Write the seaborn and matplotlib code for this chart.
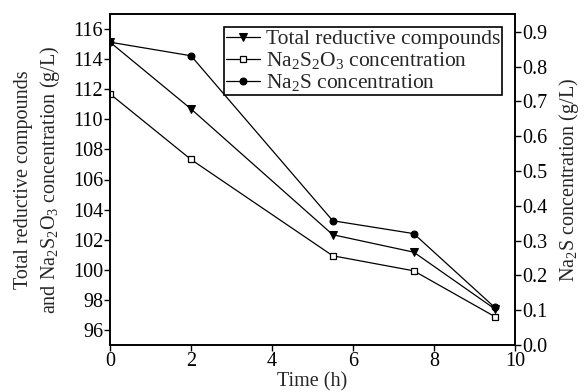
import matplotlib
matplotlib.use("Agg")
import matplotlib.pyplot as plt
import seaborn as sns
import pandas as pd

time_h = [0, 2, 5.5, 7.5, 9.5]
total_reductive = [115.13, 110.69, 102.33, 101.17, 97.4]
na2s2o3 = [111.69, 107.33, 100.93, 99.93, 96.89]
na2s = [0.87, 0.831, 0.357, 0.320, 0.108]

left_ticks = [96, 98, 100, 102, 104, 106, 108, 110, 112, 114, 116]
right_ticks = [0.0, 0.1, 0.2, 0.3, 0.4, 0.5, 0.6, 0.7, 0.8, 0.9]
x_ticks = [0, 2, 4, 6, 8, 10]

sns.set_style("ticks")
plt.rcParams['font.family'] = ['Liberation Serif', 'DejaVu Serif']
plt.rcParams['mathtext.fontset'] = 'custom'
plt.rcParams['mathtext.rm'] = 'Liberation Serif'
plt.rcParams['mathtext.it'] = 'Liberation Serif'
plt.rcParams['mathtext.default'] = 'regular'

df = pd.DataFrame({"t": time_h, "total": total_reductive, "thio": na2s2o3, "s": na2s})

fig = plt.figure(figsize=(5.88, 3.92), dpi=100)
ax = fig.add_axes([110/588, 1-345/392, 405/588, 331/392])
ax2 = ax.twinx()

lw = 0.9
sns.lineplot(data=df, x="t", y="total", ax=ax, color="black", lw=lw, marker="v",
             markersize=5.5, markeredgecolor="black", markerfacecolor="black",
             label="Total reductive compounds", legend=False)
sns.lineplot(data=df, x="t", y="thio", ax=ax, color="black", lw=lw, marker="s",
             markersize=4.5, markeredgecolor="black", markerfacecolor="white",
             markeredgewidth=0.9, label="Na$_2$S$_2$O$_3$ concentration", legend=False)
sns.lineplot(data=df, x="t", y="s", ax=ax2, color="black", lw=lw, marker="o",
             markersize=5, markeredgecolor="black", markerfacecolor="black",
             label="Na$_2$S concentration", legend=False)

ax.set_xlim(0, 10)
ax.set_ylim(95, 117)
ax2.set_ylim(0, 0.951)
ax.set_xticks(x_ticks)
ax.set_yticks(left_ticks)
ax2.set_yticks(right_ticks)
ax2.set_yticklabels([f"{v:.1f}" for v in right_ticks])

fs = 14.5
for a in (ax, ax2):
    a.tick_params(direction="out", length=4, width=1.0, labelsize=fs, pad=1, color="black", labelcolor="black")
    for sp in a.spines.values():
        sp.set_visible(True)
        sp.set_linewidth(1.2)
        sp.set_color("black")

ax.set_xlabel("Time (h)", fontsize=fs, labelpad=1)
ax.set_ylabel("Total reductive compounds\nand Na$_2$S$_2$O$_3$ concentration (g/L)", fontsize=fs,
              labelpad=8, linespacing=1.3)
ax2.set_ylabel("Na$_2$S concentration (g/L)", fontsize=fs, labelpad=7)

h1, l1 = ax.get_legend_handles_labels()
h2, l2 = ax2.get_legend_handles_labels()
leg = ax2.legend(h1 + h2, l1 + l2, loc="upper right", fontsize=15.5, frameon=True, fancybox=False,
                 edgecolor="black", framealpha=1, borderpad=0.1, labelspacing=0.05,
                 handlelength=1.6, handletextpad=0.25, borderaxespad=0.6)
leg.get_frame().set_linewidth(1.2)

fig.savefig("out.png", dpi=100)
